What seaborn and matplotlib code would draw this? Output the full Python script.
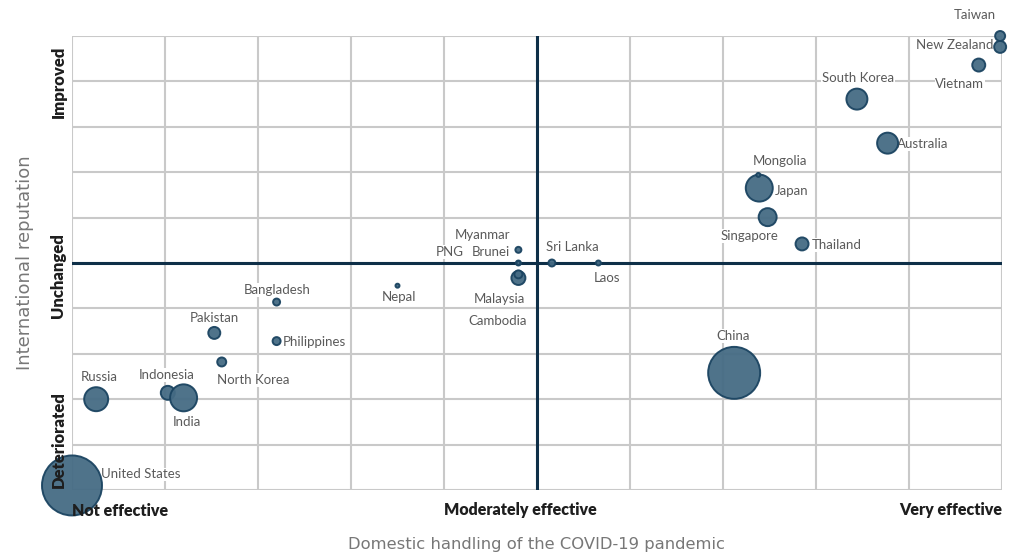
import pandas as pd
import seaborn as sns
import matplotlib.pyplot as plt

# domestic handling (0 = not effective, 10 = very effective)
# reputation (-5 = deteriorated, 5 = improved)
countries = ["United States", "Russia", "Indonesia", "India", "Pakistan", "North Korea",
             "Bangladesh", "Philippines", "Nepal", "Myanmar", "Brunei", "PNG", "Malaysia",
             "Cambodia", "Sri Lanka", "Laos", "China", "Singapore", "Japan", "Mongolia",
             "Thailand", "Australia", "South Korea", "Vietnam", "New Zealand", "Taiwan"]
handling = [0.0, 0.26, 1.03, 1.2, 1.53, 1.61, 2.2, 2.2, 3.5, 4.8, 4.8, 4.8, 4.8,
            4.8, 5.16, 5.66, 7.12, 7.48, 7.39, 7.38, 7.85, 8.77, 8.44, 9.75, 9.98, 9.98]
reputation = [-4.9, -3.0, -2.86, -2.97, -1.54, -2.18, -0.86, -1.72, -0.5, 0.29, 0.0, 0.0, -0.33,
              -0.25, 0.0, 0.0, -2.42, 1.01, 1.65, 1.94, 0.42, 2.64, 3.61, 4.36, 4.76, 5.0]
bubble = [60, 24, 14, 27, 12, 9, 7, 8, 4, 6, 5, 4, 14,
          8, 7, 5, 52, 18, 27, 4, 13, 21, 21, 13, 12, 10]

x_ticks = [0, 4.82, 10]
x_ticklabels = ["Not effective", "Moderately effective", "Very effective"]
y_ticks = [4.0, -0.27, -3.9]
y_ticklabels = ["Improved", "Unchanged", "Deteriorated"]

df = pd.DataFrame({"country": countries, "handling": handling,
                   "reputation": reputation, "bubble": bubble})
# marker area in points^2 from bubble diameter (px at 100 dpi)
df["area"] = (df["bubble"] * 0.72) ** 2

# label placement: (dx px, dy px, ha)
label_pos = {
    "United States": (29, 11, "left"), "Russia": (3, 22, "center"),
    "Indonesia": (-1, 18, "center"), "India": (3, -24, "center"),
    "Pakistan": (0, 15, "center"), "North Korea": (32, -18, "center"),
    "Bangladesh": (1, 12, "center"), "Philippines": (6, -1, "left"),
    "Nepal": (1, -11, "center"), "Myanmar": (-8, 15, "right"),
    "Brunei": (-8, 11, "right"), "PNG": (-55, 11, "right"),
    "Malaysia": (-19, -21, "center"), "Cambodia": (-21, -47, "center"),
    "Sri Lanka": (20, 16, "center"), "Laos": (9, -15, "center"),
    "China": (-1, 37, "center"), "Singapore": (-18, -19, "center"),
    "Japan": (16, -3, "left"), "Mongolia": (22, 14, "center"),
    "Thailand": (10, -1, "left"), "Australia": (9, -1, "left"),
    "South Korea": (1, 21, "center"), "Vietnam": (-19, -19, "center"),
    "New Zealand": (-7, 2, "right"), "Taiwan": (-25, 21, "center"),
}

plt.rcParams['font.family'] = ['Lato', 'DejaVu Sans']
fig = plt.figure(figsize=(10.13, 5.52), dpi=100)
ax = fig.add_axes([72 / 1013, 62 / 552, 930 / 1013, 454 / 552])

grid_c = "#c9c9c9"
for gx in range(0, 11):
    ax.axvline(gx, color=grid_c, lw=1.5, zorder=0)
for gy in range(-5, 6):
    ax.axhline(gy, color=grid_c, lw=1.5, zorder=0)
ax.axvline(5, color="#0e2f48", lw=2.2, zorder=1)
ax.axhline(0, color="#0e2f48", lw=2.2, zorder=1)

for _, r in df.iterrows():
    dx, dy, ha = label_pos[r["country"]]
    ax.annotate(r["country"], (r["handling"], r["reputation"]),
                xytext=(dx * 0.72, dy * 0.72), textcoords="offset points",
                ha=ha, va="center", fontsize=9.5, color="#5a5a5a", zorder=2,
                bbox=dict(boxstyle="square,pad=0.05", fc="white", ec="none"))

sns.scatterplot(data=df, x="handling", y="reputation", s=df["area"], ax=ax,
                color="#456b84", edgecolor="#1b4461", linewidth=1.4, alpha=0.95,
                legend=False, zorder=3, clip_on=False)

ax.set_xlim(0, 10)
ax.set_ylim(-5, 5)
for s in ax.spines.values():
    s.set_visible(False)

ax.set_xticks(x_ticks)
ax.set_xticklabels(x_ticklabels, fontsize=11.5, fontweight="heavy", color="#1e1e1e")
xl = ax.get_xticklabels()
xl[0].set_ha("left")
xl[2].set_ha("right")
ax.set_yticks(y_ticks)
ax.set_yticklabels(y_ticklabels, fontsize=12, fontweight="heavy", color="#1e1e1e",
                   rotation=90, va="center")
ax.tick_params(length=0, pad=9)
ax.tick_params(axis="y", pad=4)
ax.xaxis.set_zorder(5)
ax.yaxis.set_zorder(5)

ax.set_xlabel("Domestic handling of the COVID-19 pandemic", fontsize=11.8, color="#777777",
              family="DejaVu Sans", labelpad=13)
ax.set_ylabel("International reputation", fontsize=13, color="#777777",
              family="DejaVu Sans", labelpad=12)

fig.savefig("out.png", dpi=100)
